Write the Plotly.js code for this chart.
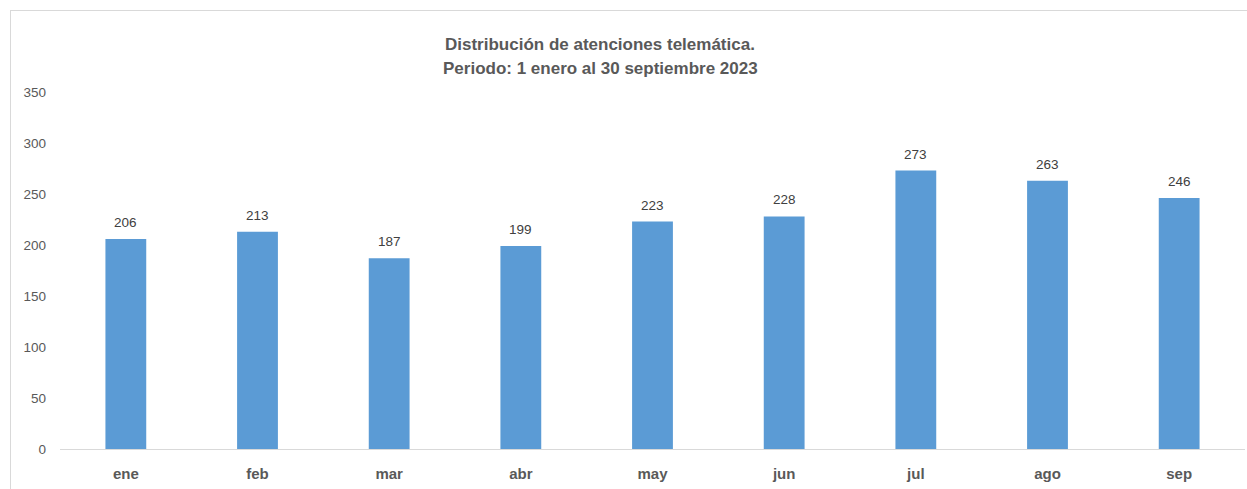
<!DOCTYPE html>
<html>
<head>
<meta charset="utf-8">
<script src="https://cdn.plot.ly/plotly-3.0.1.min.js"></script>
<style>
html,body{margin:0;padding:0;background:#fff;overflow:hidden;}
#chart{position:absolute;left:0;top:0;width:1247px;height:489px;}
#frame{position:absolute;left:10px;top:10px;width:1240px;height:490px;border:1px solid #d9d9d9;box-sizing:border-box;pointer-events:none;}
</style>
</head>
<body>
<div id="chart"></div>
<div id="frame"></div>
<script>
const months = ["ene","feb","mar","abr","may","jun","jul","ago","sep"];
const atenciones = [206,213,187,199,223,228,273,263,246];
const yTicks = [0,50,100,150,200,250,300,350];
const titleLines = ["Distribución de atenciones telemática.","Periodo: 1 enero al 30 septiembre 2023"];

const FONT = "Liberation Sans, Arial, sans-serif";

const trace = {
  type: "bar",
  x: months,
  y: atenciones,
  marker: {color: "#5B9BD5"},
  hoverinfo: "x+y"
};

const annotations = months.map((m, i) => ({
  x: m, y: atenciones[i], xref: "x", yref: "y",
  text: String(atenciones[i]),
  showarrow: false, yanchor: "bottom", yshift: 7,
  font: {family: FONT, size: 13.5, color: "#404040"}
}));

// title lines as paper annotations for exact line spacing
const titleY = [44, 68];
titleLines.forEach((t, i) => {
  annotations.push({
    xref: "paper", yref: "paper",
    x: (600 - 60) / (1247 - 62), y: 1 + (92 - titleY[i]) / (489 - 92 - 40),
    xanchor: "center", yanchor: "middle",
    text: "<b>" + t + "</b>", showarrow: false,
    font: {family: FONT, size: 17, color: "#595959"}
  });
});

const layout = {
  width: 1247, height: 489,
  margin: {l: 60, r: 2, t: 92, b: 40},
  paper_bgcolor: "#fff", plot_bgcolor: "#fff",
  bargap: 0.69,
  showlegend: false,
  xaxis: {
    type: "category",
    showline: true, linecolor: "#d9d9d9", linewidth: 1,
    showgrid: false, zeroline: false, ticks: "",
    ticklabelstandoff: 11,
    tickfont: {family: FONT, size: 15, color: "#595959", weight: "bold"}
  },
  yaxis: {
    range: [0, 350],
    tickvals: yTicks, ticktext: yTicks.map(String),
    showgrid: false, zeroline: false, showline: false, ticks: "",
    ticklabelstandoff: 13,
    tickfont: {family: FONT, size: 13.5, color: "#595959"}
  },
  annotations: annotations
};

Plotly.newPlot("chart", [trace], layout, {displayModeBar: false, staticPlot: true});
</script>
</body>
</html>
